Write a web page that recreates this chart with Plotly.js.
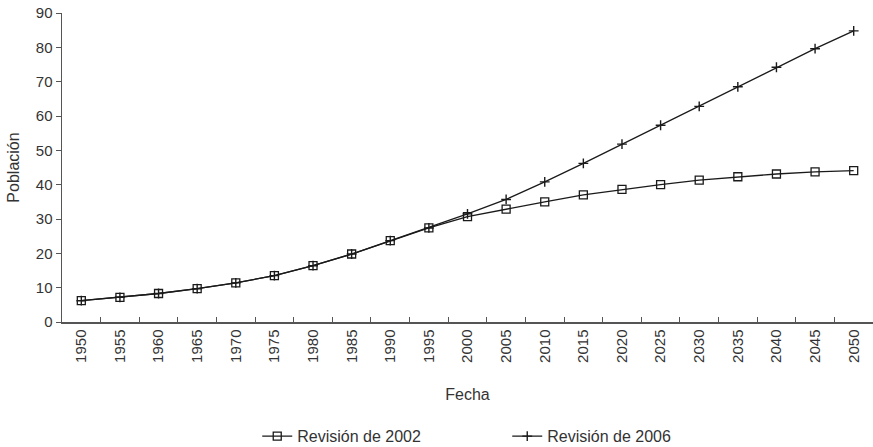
<!DOCTYPE html>
<html>
<head>
<meta charset="utf-8">
<script src="https://cdn.plot.ly/plotly-3.0.1.min.js"></script>
<style>html,body{margin:0;padding:0;background:#fff;}#chart{width:873px;height:447px;}</style>
</head>
<body>
<div id="chart"></div>
<script>
const years = ["1950","1955","1960","1965","1970","1975","1980","1985","1990","1995","2000","2005","2010","2015","2020","2025","2030","2035","2040","2045","2050"];
const rev2002 = [6.2,7.2,8.3,9.7,11.4,13.5,16.4,19.8,23.7,27.4,30.7,32.9,35.0,37.0,38.6,40.0,41.3,42.3,43.1,43.7,44.1];
const rev2006 = [6.2,7.2,8.3,9.7,11.4,13.5,16.4,19.8,23.7,27.4,31.5,35.7,40.8,46.2,51.8,57.3,62.8,68.5,74.2,79.6,84.8];
const yTicks = [0,10,20,30,40,50,60,70,80,90];

const font = {family: "Liberation Sans, Arial, sans-serif", size: 15, color: "#333"};
const bigFont = {family: "Liberation Sans, Arial, sans-serif", size: 16, color: "#333"};

const traces = [
  {x: years, y: rev2002, name: "Revisión de 2002", type: "scatter", mode: "lines+markers",
   line: {color: "#1a1a1a", width: 1.3},
   marker: {symbol: "square-open", size: 8, color: "#1a1a1a", line: {width: 1.3, color: "#1a1a1a"}}},
  {x: years, y: rev2006, name: "Revisión de 2006", type: "scatter", mode: "lines+markers",
   line: {color: "#1a1a1a", width: 1.3},
   marker: {symbol: "cross-thin-open", size: 7, color: "#1a1a1a", line: {width: 1.4, color: "#1a1a1a"}}}
];

const layout = {
  width: 873, height: 447,
  margin: {l: 62, r: 0, t: 13, b: 125},
  paper_bgcolor: "#fff", plot_bgcolor: "#fff",
  font: font,
  showlegend: true,
  legend: {orientation: "h", x: 0.549, xanchor: "center", yref: "container", y: 0.024, yanchor: "middle",
           font: bigFont, entrywidth: 205, traceorder: "normal"},
  xaxis: {type: "category", range: [-0.5, 20.5], showgrid: false, zeroline: false,
          showline: true, linecolor: "#555", linewidth: 1.5,
          ticks: "inside", tickson: "boundaries", ticklen: 5, tickcolor: "#555", tickwidth: 1,
          tickangle: -90, tickfont: font, automargin: false,
          title: {text: "Fecha", font: bigFont, standoff: 27}},
  yaxis: {range: [0, 90], tickvals: yTicks, showgrid: false, zeroline: false,
          showline: true, linecolor: "#555", linewidth: 1.5,
          ticks: "outside", ticklen: 5, tickcolor: "#555", tickwidth: 1,
          tickfont: font, automargin: false,
          title: {text: "Población", font: bigFont, standoff: 12}}
};

Plotly.newPlot("chart", traces, layout, {displayModeBar: false, staticPlot: true});
</script>
</body>
</html>
